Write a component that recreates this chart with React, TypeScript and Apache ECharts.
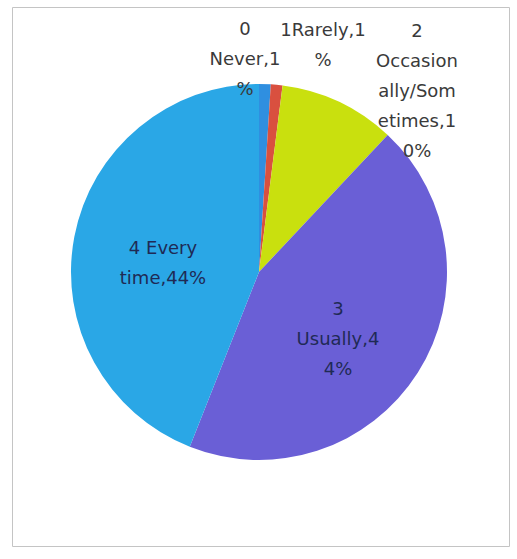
import React, { useEffect, useRef } from "react";
import * as echarts from "echarts";

const categories = ["0 Never", "1Rarely", "2 Occasionally/Sometimes", "3 Usually", "4 Every time"];
const percentValues = [1, 1, 10, 44, 44];
const wrapLimits = [7, 9, 8, 9, 9];
const sliceColors = ["#2f8fe0", "#d9503f", "#c9e00e", "#6a5fd6", "#2aa7e6"];
const labelAnchors: [number, number][] = [
  [245, 58],
  [323, 44],
  [417, 90],
  [338, 338],
  [163, 262],
];

function wrapText(s: string, limit: number): string {
  const words = s.split(" ");
  const lines: string[] = [];
  let cur = "";
  for (const w of words) {
    const cand = cur ? cur + " " + w : w;
    if (cand.length <= limit) {
      cur = cand;
      continue;
    }
    if (cur) lines.push(cur);
    let rest = w;
    while (rest.length > limit) {
      lines.push(rest.slice(0, limit));
      rest = rest.slice(limit);
    }
    cur = rest;
  }
  if (cur) lines.push(cur);
  return lines.join("\n");
}

export default function App() {
  const ref = useRef<HTMLDivElement>(null);
  useEffect(() => {
    if (!ref.current) return;
    const chart = echarts.init(ref.current, undefined, { renderer: "svg" });
    chart.setOption({
      animation: false,
      backgroundColor: "#ffffff",
      graphic: [
        {
          type: "rect",
          shape: { x: 12.5, y: 7.5, width: 497, height: 539 },
          style: { fill: "none", stroke: "#c4c4c4", lineWidth: 1 },
          silent: true,
        },
      ],
      series: [
        {
          type: "pie",
          center: [259, 272],
          radius: [0, 188],
          startAngle: 90,
          clockwise: true,
          avoidLabelOverlap: false,
          itemStyle: { borderWidth: 0 },
          label: {
            show: true,
            position: "inside",
            fontFamily: "DejaVu Sans",
            fontSize: 18,
            lineHeight: 30,
            color: "#3a3a3a",
            align: "center",
            formatter: (p: any) =>
              wrapText(`${p.name},${p.value}%`, wrapLimits[p.dataIndex]),
          },
          labelLine: { show: false },
          labelLayout: (p: any) => {
            const a = labelAnchors[p.dataIndex];
            return { x: a[0], y: a[1], align: "center", verticalAlign: "middle" };
          },
          data: categories.map((c, i) => ({
            name: c,
            value: percentValues[i],
            itemStyle: { color: sliceColors[i] },
            label: i >= 3 ? { color: "#1f2a55" } : {},
          })),
        },
      ],
    });
    return () => chart.dispose();
  }, []);
  return (
    <div
      ref={ref}
      style={{ position: "fixed", left: 0, top: 0, width: 517, height: 559 }}
    />
  );
}
